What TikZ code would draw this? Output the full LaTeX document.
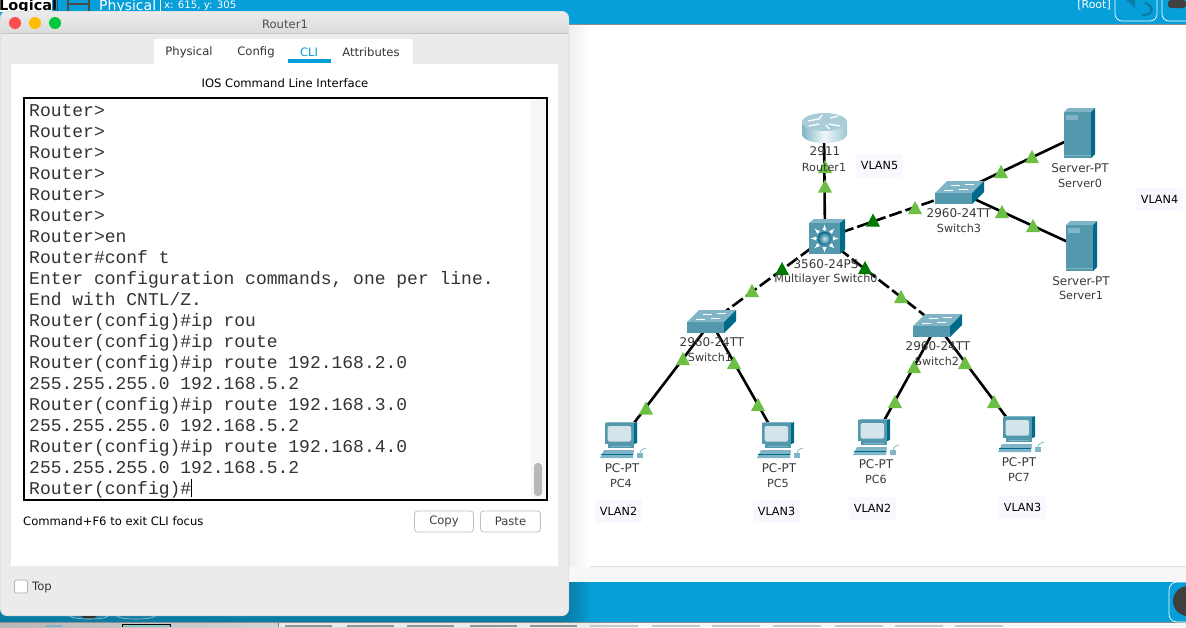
\documentclass[tikz,border=0pt]{standalone}
\usepackage{fontspec}
\setmainfont{DejaVu Sans}
\newfontfamily\climono{Liberation Mono}
\usetikzlibrary{calc}
\definecolor{ptblue}{HTML}{069FD9}
\definecolor{ptdark}{HTML}{0A7CA6}
\definecolor{tealf}{HTML}{5498AE}
\definecolor{teald}{HTML}{006A8A}
\definecolor{tealt}{HTML}{7FB5C6}
\definecolor{tealp}{HTML}{D3E4EB}
\definecolor{winbg}{HTML}{EBEBEB}
\definecolor{triL}{HTML}{6CBE45}
\definecolor{triD}{HTML}{007A00}
\definecolor{vbg}{HTML}{F8F8FF}
\definecolor{lbl}{HTML}{3A3A3A}
\definecolor{macred}{HTML}{FF4D4D}
\definecolor{macyel}{HTML}{FFBB00}
\definecolor{macgrn}{HTML}{00C83C}
\tikzset{
 x=1pt,y=-1pt,
 port/.style={shape=coordinate},
 wire/.style={line width=2.6pt,black},
 dwire/.style={wire,dash pattern=on 13pt off 4pt},
 lab/.style={font=\fontsize{11.2}{13}\selectfont,text=lbl,inner sep=0pt},
 modl/.style={font=\fontsize{12}{13}\selectfont,text=lbl,inner sep=0pt},
 ui/.style={font=\fontsize{11.6}{14}\selectfont,text=black!80,inner sep=0pt},
 vlan/.style={fill=vbg,minimum width=47pt,minimum height=23pt,inner sep=0pt,font=\fontsize{11.2}{13}\selectfont,text=black},
 btn/.style={draw=black!25,fill=white,rounded corners=3pt,minimum width=59pt,minimum height=21pt,inner sep=0pt,line width=.8pt,font=\fontsize{11.6}{14}\selectfont,text=black!75},
 tri/.pic={\fill[pic actions] (0,6.5)--(7,6.5)--(0,-6.5)--(-7,6.5)--cycle;},
 swicon/.pic={
  \fill[tealt] (0,0)--(12,-12)--(49,-12)--(37,0)--cycle;
  \fill[teald] (37,0)--(49,-12)--(49,-1)--(37,11)--cycle;
  \fill[tealf] (0,0) rectangle (37,11);
  \draw[white,line width=.7pt] (16,-8)--(25,-8) (30,-9)--(39,-9) (9,-3)--(18,-3) (24,-4)--(33,-4);
 },
 pcicon/.pic={
  \fill[teald] (29,0)--(32,-1)--(32,20)--(29,21)--cycle;
  \fill[tealt] (0,0)--(3,-1)--(32,-1)--(29,0)--cycle;
  \fill[tealf] (0,0) rectangle (29,21);
  \fill[tealp,rounded corners=1.5pt] (2.5,3) rectangle (26,18.5);
  \fill[tealf] (3,21) rectangle (29,25);
  \fill[tealt] (6,23) rectangle (26,24);
  \fill[tealt] (-1,27)--(29,27)--(28,35)--(-5,35)--cycle;
  \draw[teald,line width=.6pt] (-4,31)--(28,31);
  \fill[tealt] (32,30) rectangle (38,35);
  \draw[tealt,line width=.8pt] (35,30) .. controls (36,26) and (38,26) .. (41,25);
 },
 servericon/.pic={
  \fill[tealt] (0,0)--(4,-4)--(31,-4)--(27,0)--cycle;
  \fill[teald] (27,0)--(31,-4)--(31,42)--(27,46)--cycle;
  \fill[tealf] (0,0) rectangle (27,46);
  \fill[tealt] (2,3) rectangle (14,7.5);
  \draw[tealt,line width=.5pt] (0,43)--(27,43);
 },
 mlsicon/.pic={
  \fill[tealt] (0,0)--(5,-4)--(36,-4)--(31,0)--cycle;
  \fill[teald] (31,0)--(36,-4)--(36,27)--(31,31)--cycle;
  \fill[tealf] (0,0) rectangle (31,31);
  \foreach \a in {0,45,...,315}{
   \draw[white,line width=.9pt,-{latex}] ($(15.5,15.5)+(\a:8)$)--($(15.5,15.5)+(\a:14)$);
  }
  \shade[inner color=tealp,outer color=teald] (15.5,15.5) circle (6.8);
 },
 routericon/.pic={
  \shade[left color=tealt,right color=tealt!75,middle color=tealp!30!white] (0,9)--(0,21) .. controls (0,33) and (45,33) .. (45,21)--(45,9)--cycle;
  \fill[tealt!50!tealp] (22.5,9) ellipse[x radius=22.5,y radius=9];
  \draw[white,line width=1.3pt] (6,8)--(17,6) (28,5)--(36,3) (7,13)--(17,11) (27,11)--(38,13) (17,6)--(20,2) (24,12)--(27,16);
 },
}
\begin{document}
\begin{tikzpicture}
\useasboundingbox (0,0) rectangle (1186,627);
% ---- application background
\fill[white] (0,0) rectangle (1186,627);
\fill[ptblue] (0,0) rectangle (1186,24);
\fill[black!45] (0,24) rectangle (1186,25);
\fill[black!3] (0,566) rectangle (1186,582);
\fill[black!12] (0,566) rectangle (1186,567);
\fill[ptblue] (0,582) rectangle (1186,622);
\fill[ptdark] (0,582) rectangle (568,622);
\shade[left color=ptdark,right color=ptblue] (568,582) rectangle (592,622);
\fill[black!45] (0,622) rectangle (1186,623);
\shade[left color=black!28,right color=black!4] (0,623) rectangle (640,627);
\fill[black!4] (640,623) rectangle (1186,627);
\fill[black!50] (278,623) rectangle (279,627);
\fill[black!8] (279,623) rectangle (600,627);
\foreach \xa in {285,347,407,470,530}{\fill[black!42] (\xa,625) rectangle (\xa+47,627);}
\foreach \xa in {590,652,712,773,835,895,955}{\fill[black!22] (\xa,625) rectangle (\xa+48,627);}
\fill[tealt] (46,625) rectangle (62,627);
\fill[teal!45] (122,624) rectangle (170,627);
\draw[black,line width=.7pt] (122,627)--(122,624)--(170,624)--(170,627);
% top bar
\fill[white] (0,0) rectangle (52,12);
\node[anchor=base west,inner sep=0pt,font=\bfseries\fontsize{14.5}{16}\selectfont] (tlog) at (-1,10) {Logical};
\fill[black!70] (57,0) rectangle (58,12);
\draw[black!70,line width=1.5pt] (68,-2) rectangle (89,12) (68,4)--(89,4);
\node[anchor=base west,inner sep=0pt,text=white,font=\fontsize{14}{16}\selectfont] (tphy) at (99,10) {Physical};
\fill[white] (160,0) rectangle (160.7,12);
\node[anchor=base west,inner sep=0pt,text=white,font=\fontsize{10.2}{12}\selectfont] (tpos) at (164,8) {x: 615, y: 305};
\node[anchor=base east,inner sep=0pt,text=white,font=\fontsize{11}{13}\selectfont] (troot) at (1111,8) {[Root]};
\draw[white,line width=.7pt,rounded corners=7pt] (1115,-8) rectangle (1157,21);
\draw[ptdark,line width=2.4pt] (1145,3) .. controls (1155,6) and (1153,16) .. (1142,15);
\fill[ptdark] (1124,-2)--(1135,-2)--(1135,8)--cycle;
\draw[white,line width=.7pt,rounded corners=7pt] (1162,-8) rectangle (1200,21);
\fill[black!75,rounded corners=3pt] (1168,0) rectangle (1186,8);
\draw[white,line width=.7pt,rounded corners=8pt] (1169,582) rectangle (1210,622);
\fill[black!75] (1188,601) circle (15);
% ---- window shadow
\shade[left color=black!7,right color=white] (569,25) rectangle (590,566);
% ---- network
\node[port] (r1) at (824,128) {};
\node[port] (mls) at (825,238) {};
\node[port] (sw3) at (959,192) {};
\node[port] (sw1) at (711,322) {};
\node[port] (sw2) at (937,325) {};
\node[port] (srv0) at (1079,135) {};
\node[port] (srv1) at (1081,248) {};
\node[port] (pc4) at (621,440) {};
\node[port] (pc5) at (778,440) {};
\node[port] (pc6) at (875,437) {};
\node[port] (pc7) at (1019,434) {};
\draw[wire] (r1)--(mls);
\draw[dwire] (mls)--(sw3);
\draw[dwire] (mls)--(sw1);
\draw[dwire] (mls)--(sw2);
\draw[wire] (sw3)--(srv0);
\draw[wire] (sw3)--(srv1);
\draw[wire] (sw1)--(pc4);
\draw[wire] (sw1)--(pc5);
\draw[wire] (sw2)--(pc6);
\draw[wire] (sw2)--(pc7);
\pic[triL] at (825,186) {tri};
\pic[triD] at (873,220) {tri};
\pic[triL] at (915,207.5) {tri};
\pic[triL] at (1001,171.5) {tri};
\pic[triL] at (1032,156.5) {tri};
\pic[triL] at (1002,211.5) {tri};
\pic[triL] at (1033,225.5) {tri};
\pic[triD] at (782,268.5) {tri};
\pic[triL] at (752,290.5) {tri};
\pic[triD] at (865,267.5) {tri};
\pic[triL] at (901,296.5) {tri};
\pic[triL] at (683,358.5) {tri};
\pic[triL] at (646,408) {tri};
\pic[triL] at (734,362.5) {tri};
\pic[triL] at (758,404.5) {tri};
\pic[triL] at (914,366.5) {tri};
\pic[triL] at (895,401.5) {tri};
\pic[triL] at (965,362.5) {tri};
\pic[triL] at (994,401.5) {tri};
\pic at (802,113) {routericon};
\pic[triL] at (825,166.5) {tri};
\pic at (809,223) {mlsicon};
\pic at (935,193) {swicon};
\pic at (687,322) {swicon};
\pic at (913,326) {swicon};
\pic at (1064,112) {servericon};
\pic at (1066,225) {servericon};
\pic at (605,423) {pcicon};
\pic at (762,423) {pcicon};
\pic at (858,420) {pcicon};
\pic at (1003,417) {pcicon};
\node[modl] (l1) at (825,151) {2911};
\node[lab] (l2) at (824,167) {Router1};
\node[modl] (l3) at (826,264) {3560-24PS};
\node[lab] (l4) at (826,279) {Multilayer Switch0};
\node[modl] (l5) at (959,213) {2960-24TT};
\node[lab] (l6) at (959,228) {Switch3};
\node[modl] (l7) at (1080,168) {Server-PT};
\node[lab] (l8) at (1080,183) {Server0};
\node[modl] (l9) at (1081,281) {Server-PT};
\node[lab] (l10) at (1081,295) {Server1};
\node[modl] (l11) at (712,342) {2960-24TT};
\node[lab] (l12) at (710,357) {Switch1};
\node[modl] (l13) at (938,346) {2960-24TT};
\node[lab] (l14) at (937,361) {Switch2};
\node[modl] (l15) at (622,468) {PC-PT};
\node[lab] (l16) at (621,483) {PC4};
\node[modl] (l17) at (779,468) {PC-PT};
\node[lab] (l18) at (778,483) {PC5};
\node[modl] (l19) at (876,464) {PC-PT};
\node[lab] (l20) at (876,479) {PC6};
\node[modl] (l21) at (1019,462) {PC-PT};
\node[lab] (l22) at (1019,477) {PC7};
\node[vlan] (v5) at (879.5,165) {VLAN5};
\node[vlan] (v4) at (1159.5,199.5) {VLAN4};
\node[vlan] (v2a) at (618.5,511.5) {VLAN2};
\node[vlan] (v3a) at (776.5,511.5) {VLAN3};
\node[vlan] (v2b) at (872.5,508.5) {VLAN2};
\node[vlan] (v3b) at (1022.5,507.5) {VLAN3};
% ---- Router1 window
\fill[black!12,rounded corners=7pt] (0,11) rectangle (569,616);
\fill[winbg,rounded corners=6pt] (1,12) rectangle (568,615);
\begin{scope}
\clip[rounded corners=6pt] (1,12) rectangle (568,60);
\shade[top color=black!8,bottom color=black!14] (1,12) rectangle (568,33);
\end{scope}
\fill[black!22] (1,33) rectangle (568,33.7);
\fill[white] (154,39) rectangle (413,64);
\fill[white] (11,64) rectangle (558,566);
\fill[ptblue] (288,59) rectangle (331,63);
\fill[macred] (15,23) circle (6);
\fill[macyel] (35,23) circle (6);
\fill[macgrn] (55,23) circle (6);
\node[ui,text=black!70] (wt) at (285,24) {Router1};
\node[ui] (t1) at (189,52) {Physical};
\node[ui] (t2) at (256,52) {Config};
\node[ui,text=ptblue] (t3) at (309,52) {CLI};
\node[ui] (t4) at (371,52) {Attributes};
\node[ui,text=black] (ios) at (285,83) {IOS Command Line Interface};
\fill[black!3] (531,99) rectangle (546,499);
\draw[black,line width=2.2pt] (24,98) rectangle (547,500);
\fill[black!28,rounded corners=3.5pt] (534,463) rectangle (542,496);
\node[anchor=north west,inner sep=0pt,align=left,text=black!80,font=\climono\fontsize{18}{21}\selectfont] (cli) at (29,104) {Router>\\Router>\\Router>\\Router>\\Router>\\Router>\\Router>en\\Router\#conf t\\Enter configuration commands, one per line.\\End with CNTL/Z.\\Router(config)\#ip rou\\Router(config)\#ip route\\Router(config)\#ip route 192.168.2.0\\255.255.255.0 192.168.5.2\\Router(config)\#ip route 192.168.3.0\\255.255.255.0 192.168.5.2\\Router(config)\#ip route 192.168.4.0\\255.255.255.0 192.168.5.2\\Router(config)\#};
\draw[black,line width=.9pt] (191,479)--(191,497);
\node[ui,anchor=west,text=black] (foc) at (23,521) {Command+F6 to exit CLI focus};
\node[btn] (copy) at (444,521.5) {Copy};
\node[btn,minimum width=60pt] (paste) at (510.5,521.5) {Paste};
\node[draw=black!30,fill=white,rounded corners=2.5pt,minimum size=13pt,inner sep=0pt,line width=.8pt] (chk) at (21,586.5) {};
\node[ui,anchor=west] (top) at (32,587) {Top};
\fill[black!80] (81,616)--(97,616)--(94,618)--(84,618)--cycle;
\draw[black!25,line width=.6pt] (70,616) .. controls (72,620) and (106,620) .. (108,616);
\draw[black!25,line width=.6pt] (117,616) .. controls (119,620) and (153,620) .. (155,616);
\end{tikzpicture}
\end{document}
